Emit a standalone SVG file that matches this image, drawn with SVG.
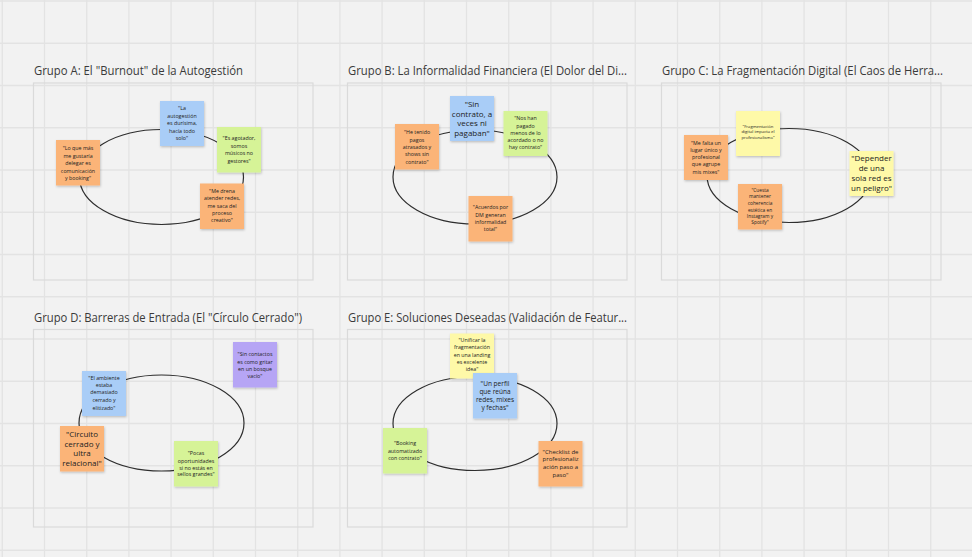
<svg xmlns="http://www.w3.org/2000/svg" width="972" height="557" viewBox="0 0 972 557">
<defs>
<style>
.grid{stroke:#e3e3e3;stroke-width:1.3;fill:none}
.frame{fill:none;stroke:#dadada;stroke-width:1.2}
.title{font-family:"Open Sans","Noto Sans",sans-serif;font-size:12.5px;fill:#3a3a3a}
.ell{fill:none;stroke:#2e2e2e;stroke-width:1.2}
.note{filter:url(#sh)}
.blue{fill:#a9cdf7}
.green{fill:#d6f397}
.orange{fill:#fbb478}
.yellow{fill:#fef9a8}
.purple{fill:#b6a5f5}
.t{font-family:"Open Sans","Noto Sans",sans-serif;fill:#222;text-anchor:middle;font-size:5.3px}
.big{font-size:8px}
.mid{font-size:6.5px}
.tiny{font-size:4.2px}
</style>
<filter id="sh" x="-20%" y="-20%" width="150%" height="150%">
<feDropShadow dx="0.6" dy="1.2" stdDeviation="0.9" flood-color="#000" flood-opacity="0.22"/>
</filter>
</defs>
<rect width="972" height="557" fill="#f2f2f2"/>
<path class="grid" d="M2.3 0V557M44.5 0V557M86.7 0V557M128.9 0V557M171.1 0V557M213.3 0V557M255.5 0V557M297.7 0V557M339.9 0V557M382.1 0V557M424.3 0V557M466.5 0V557M508.7 0V557M550.9 0V557M593.1 0V557M635.3 0V557M677.5 0V557M719.7 0V557M761.9 0V557M804.1 0V557M846.3 0V557M888.5 0V557M930.7 0V557M0 1H972M0 43.25H972M0 85.5H972M0 127.75H972M0 170H972M0 212.25H972M0 254.5H972M0 296.75H972M0 339H972M0 381.25H972M0 423.5H972M0 465.75H972M0 508H972M0 550.25H972"/>

<g id="frames">
<rect class="frame" x="33.5" y="83" width="279.5" height="197"/>
<rect class="frame" x="347.5" y="83" width="279.5" height="197"/>
<rect class="frame" x="661.5" y="83" width="279.5" height="197"/>
<rect class="frame" x="33.5" y="329.5" width="279.5" height="197.5"/>
<rect class="frame" x="347.5" y="329.5" width="279.5" height="197.5"/>
</g>

<g id="titles">
<text class="title" x="34" y="75" textLength="209" lengthAdjust="spacingAndGlyphs">Grupo A: El "Burnout" de la Autogestión</text>
<text class="title" x="348" y="75" textLength="279" lengthAdjust="spacingAndGlyphs">Grupo B: La Informalidad Financiera (El Dolor del Di...</text>
<text class="title" x="662" y="75" textLength="281" lengthAdjust="spacingAndGlyphs">Grupo C: La Fragmentación Digital (El Caos de Herra...</text>
<text class="title" x="34" y="321.5" textLength="268" lengthAdjust="spacingAndGlyphs">Grupo D: Barreras de Entrada (El "Círculo Cerrado")</text>
<text class="title" x="348" y="321.5" textLength="279" lengthAdjust="spacingAndGlyphs">Grupo E: Soluciones Deseadas (Validación de Featur...</text>
</g>

<g id="connectors">
<ellipse class="ell" cx="161.5" cy="177" rx="82" ry="47.5"/>
<ellipse class="ell" cx="475" cy="177" rx="82" ry="47"/>
<ellipse class="ell" cx="789" cy="175.5" rx="82" ry="47"/>
<ellipse class="ell" cx="161.5" cy="423" rx="82.5" ry="48"/>
<ellipse class="ell" cx="475" cy="423.5" rx="82" ry="47"/>
</g>

<!-- Group A -->
<g id="a-blue">
<rect class="note blue" x="160" y="101" width="44" height="45"/>
<text class="t"><tspan x="182" y="110.2">"La</tspan><tspan x="182" y="117.9">autogestión</tspan><tspan x="182" y="125.2">es durísima,</tspan><tspan x="182" y="132.6">hacía todo</tspan><tspan x="182" y="139.6">solo"</tspan></text>
</g>
<g id="a-green">
<rect class="note green" x="217" y="127" width="44" height="45.5"/>
<text class="t"><tspan x="239" y="139.6">"Es agotador,</tspan><tspan x="239" y="147.6">somos</tspan><tspan x="239" y="155.2">músicos no</tspan><tspan x="239" y="162.9">gestores"</tspan></text>
</g>
<g id="a-orange-left">
<rect class="note orange" x="56" y="140" width="44" height="45.5"/>
<text class="t"><tspan x="78" y="149.6">"Lo que más</tspan><tspan x="78" y="157.6">me gustaría</tspan><tspan x="78" y="164.6">delegar es</tspan><tspan x="78" y="172.6">comunicación</tspan><tspan x="78" y="179.6">y booking"</tspan></text>
</g>
<g id="a-orange-right">
<rect class="note orange" x="200" y="183.5" width="44" height="45.5"/>
<text class="t"><tspan x="222" y="192.9">"Me drena</tspan><tspan x="222" y="200.2">atender redes,</tspan><tspan x="222" y="207.6">me saca del</tspan><tspan x="222" y="214.9">proceso</tspan><tspan x="222" y="221.9">creativo"</tspan></text>
</g>

<!-- Group B -->
<g id="b-blue">
<rect class="note blue" x="450" y="96" width="44" height="45"/>
<text class="t big"><tspan x="472" y="106.8">"Sin</tspan><tspan x="472" y="116.8">contrato, a</tspan><tspan x="472" y="126.1">veces ni</tspan><tspan x="472" y="135.5">pagaban"</tspan></text>
</g>
<g id="b-green">
<rect class="note green" x="503.5" y="111" width="44" height="45"/>
<text class="t"><tspan x="525.5" y="120.2">"Nos han</tspan><tspan x="525.5" y="127.6">pagado</tspan><tspan x="525.5" y="134.6">menos de lo</tspan><tspan x="525.5" y="141.9">acordado o no</tspan><tspan x="525.5" y="149.2">hay contrato"</tspan></text>
</g>
<g id="b-orange-left">
<rect class="note orange" x="395" y="124" width="44" height="45.5"/>
<text class="t"><tspan x="417" y="134.2">"He tenido</tspan><tspan x="417" y="141.9">pagos</tspan><tspan x="417" y="149.2">atrasados y</tspan><tspan x="417" y="156.2">shows sin</tspan><tspan x="417" y="163.6">contrato"</tspan></text>
</g>
<g id="b-orange-bottom">
<rect class="note orange" x="468.5" y="196" width="44" height="45.5"/>
<text class="t"><tspan x="490.5" y="209.2">"Acuerdos por</tspan><tspan x="490.5" y="216.9">DM generan</tspan><tspan x="490.5" y="224.2">informalidad</tspan><tspan x="490.5" y="231.2">total"</tspan></text>
</g>

<!-- Group C -->
<g id="c-yellow-top">
<rect class="note yellow" x="736" y="111" width="44" height="45"/>
<text class="t tiny"><tspan x="758" y="127.5">"Fragmentación</tspan><tspan x="758" y="133.2">digital impacta el</tspan><tspan x="758" y="139.2">profesionalismo"</tspan></text>
</g>
<g id="c-orange-left">
<rect class="note orange" x="684" y="135" width="44" height="45"/>
<text class="t"><tspan x="706" y="144.6">"Me falta un</tspan><tspan x="706" y="151.9">lugar único y</tspan><tspan x="706" y="159.2">profesional</tspan><tspan x="706" y="166.2">que agrupe</tspan><tspan x="706" y="173.6">mis mixes"</tspan></text>
</g>
<g id="c-yellow-right">
<rect class="note yellow" x="849.5" y="151" width="44" height="45"/>
<text class="t big"><tspan x="871.5" y="161.1">"Depender</tspan><tspan x="871.5" y="171.1">de una</tspan><tspan x="871.5" y="181.1">sola red es</tspan><tspan x="871.5" y="190.5">un peligro"</tspan></text>
</g>
<g id="c-orange-bottom">
<rect class="note orange" x="738" y="184" width="44" height="45.5"/>
<text class="t" style="font-size:4.8px"><tspan x="760" y="191.7">"Cuesta</tspan><tspan x="760" y="198.4">mantener</tspan><tspan x="760" y="205">coherencia</tspan><tspan x="760" y="211.7">estética en</tspan><tspan x="760" y="218.4">Instagram y</tspan><tspan x="760" y="224.4">Spotify"</tspan></text>
</g>

<!-- Group D -->
<g id="d-purple">
<rect class="note purple" x="233" y="342" width="44" height="45.5"/>
<text class="t"><tspan x="255" y="356.2">"Sin contactos</tspan><tspan x="255" y="363.6">es como gritar</tspan><tspan x="255" y="370.9">en un bosque</tspan><tspan x="255" y="377.9">vacío"</tspan></text>
</g>
<g id="d-blue">
<rect class="note blue" x="82" y="371" width="44" height="45"/>
<text class="t"><tspan x="104" y="379.6">"El ambiente</tspan><tspan x="104" y="386.9">estaba</tspan><tspan x="104" y="394.2">demasiado</tspan><tspan x="104" y="402.2">cerrado y</tspan><tspan x="104" y="409.6">elitizado"</tspan></text>
</g>
<g id="d-orange">
<rect class="note orange" x="60" y="426" width="44" height="45.5"/>
<text class="t big"><tspan x="82" y="436.8">"Circuito</tspan><tspan x="82" y="446.8">cerrado y</tspan><tspan x="82" y="456.1">ultra</tspan><tspan x="82" y="465.5">relacional"</tspan></text>
</g>
<g id="d-green">
<rect class="note green" x="174" y="441" width="44" height="45.5"/>
<text class="t"><tspan x="196" y="455.2">"Pocas</tspan><tspan x="196" y="462.6">oportunidades</tspan><tspan x="196" y="469.6">si no estás en</tspan><tspan x="196" y="476.2">sellos grandes"</tspan></text>
</g>

<!-- Group E -->
<g id="e-yellow">
<rect class="note yellow" x="450" y="333.5" width="44" height="45"/>
<text class="t"><tspan x="472" y="341.9">"Unificar la</tspan><tspan x="472" y="349.2">fragmentación</tspan><tspan x="472" y="356.9">en una landing</tspan><tspan x="472" y="364.2">es excelente</tspan><tspan x="472" y="371.2">idea"</tspan></text>
</g>
<g id="e-blue">
<rect class="note blue" x="473" y="373" width="44" height="45.5"/>
<text class="t mid"><tspan x="495" y="385.6">"Un perfil</tspan><tspan x="495" y="394">que reúna</tspan><tspan x="495" y="401.6">redes, mixes</tspan><tspan x="495" y="409.6">y fechas"</tspan></text>
</g>
<g id="e-green">
<rect class="note green" x="383" y="428" width="44" height="45.5"/>
<text class="t"><tspan x="405" y="445.2">"Booking</tspan><tspan x="405" y="452.6">automatizado</tspan><tspan x="405" y="460.2">con contrato"</tspan></text>
</g>
<g id="e-orange">
<rect class="note orange" x="538.5" y="441" width="44" height="45.5"/>
<text class="t" style="font-size:6px"><tspan x="560.5" y="453.8">"Checklist de</tspan><tspan x="560.5" y="461.4">profesionaliz</tspan><tspan x="560.5" y="469.4">ación paso a</tspan><tspan x="560.5" y="477.1">paso"</tspan></text>
</g>
</svg>
